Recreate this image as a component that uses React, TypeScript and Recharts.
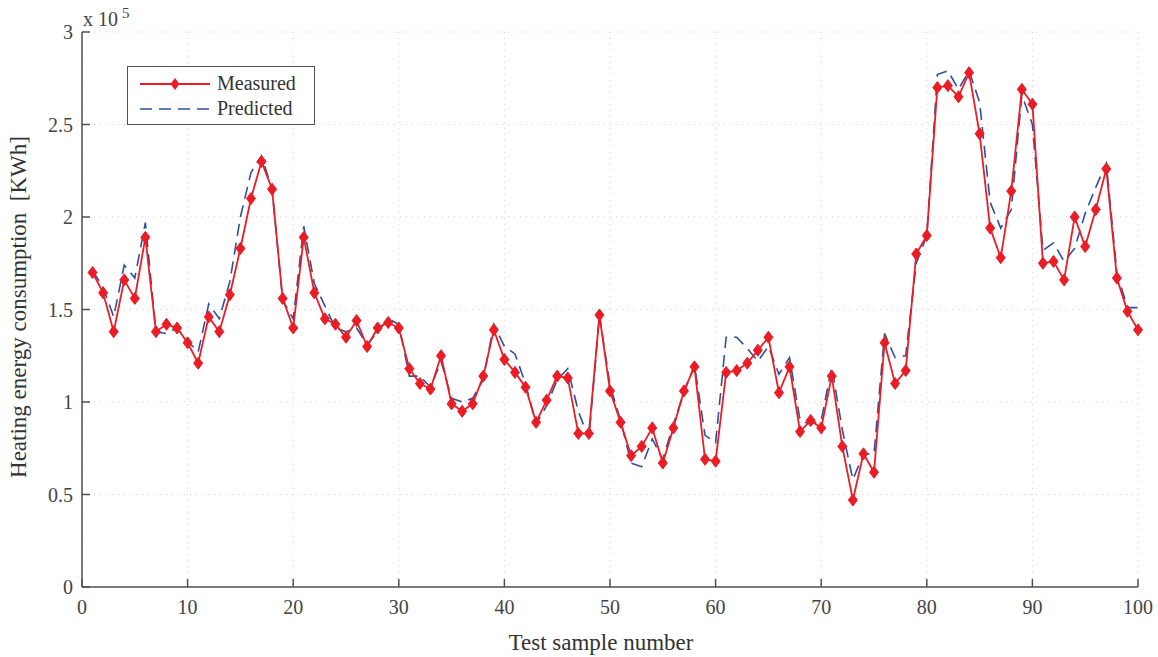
import { LineChart, Line, XAxis, YAxis, CartesianGrid, Legend } from 'recharts'

// values are in units of 10^5 KWh (the axis carries the "x 10^5" note)
const sampleNumbers = [
  1, 2, 3, 4, 5, 6, 7, 8, 9, 10, 11, 12, 13, 14, 15, 16, 17, 18, 19, 20,
  21, 22, 23, 24, 25, 26, 27, 28, 29, 30, 31, 32, 33, 34, 35, 36, 37, 38, 39, 40,
  41, 42, 43, 44, 45, 46, 47, 48, 49, 50, 51, 52, 53, 54, 55, 56, 57, 58, 59, 60,
  61, 62, 63, 64, 65, 66, 67, 68, 69, 70, 71, 72, 73, 74, 75, 76, 77, 78, 79, 80,
  81, 82, 83, 84, 85, 86, 87, 88, 89, 90, 91, 92, 93, 94, 95, 96, 97, 98, 99, 100,
]

const measured = [
  1.70, 1.59, 1.38, 1.66, 1.56, 1.89, 1.38, 1.42, 1.40, 1.32,
  1.21, 1.46, 1.38, 1.58, 1.83, 2.10, 2.30, 2.15, 1.56, 1.40,
  1.89, 1.59, 1.45, 1.42, 1.35, 1.44, 1.30, 1.40, 1.43, 1.40,
  1.18, 1.10, 1.07, 1.25, 0.99, 0.95, 0.99, 1.14, 1.39, 1.23,
  1.16, 1.08, 0.89, 1.01, 1.14, 1.13, 0.83, 0.83, 1.47, 1.06,
  0.89, 0.71, 0.76, 0.86, 0.67, 0.86, 1.06, 1.19, 0.69, 0.68,
  1.16, 1.17, 1.21, 1.28, 1.35, 1.05, 1.19, 0.84, 0.90, 0.86,
  1.14, 0.76, 0.47, 0.72, 0.62, 1.32, 1.10, 1.17, 1.80, 1.90,
  2.70, 2.71, 2.65, 2.78, 2.45, 1.94, 1.78, 2.14, 2.69, 2.61,
  1.75, 1.76, 1.66, 2.00, 1.84, 2.04, 2.26, 1.67, 1.49, 1.39,
]

const predicted = [
  1.71, 1.62, 1.46, 1.74, 1.67, 1.97, 1.38, 1.37, 1.40, 1.33,
  1.27, 1.53, 1.45, 1.65, 2.00, 2.24, 2.33, 2.15, 1.55, 1.45,
  1.95, 1.64, 1.52, 1.40, 1.38, 1.40, 1.31, 1.38, 1.45, 1.42,
  1.14, 1.14, 1.08, 1.22, 1.02, 1.00, 1.02, 1.12, 1.42, 1.30,
  1.26, 1.10, 0.88, 0.98, 1.12, 1.18, 0.95, 0.80, 1.47, 1.09,
  0.90, 0.67, 0.65, 0.80, 0.69, 0.88, 1.05, 1.20, 0.82, 0.78,
  1.35, 1.35, 1.29, 1.22, 1.30, 1.15, 1.24, 0.90, 0.88, 0.90,
  1.19, 0.85, 0.58, 0.72, 0.72, 1.37, 1.24, 1.25, 1.75, 1.90,
  2.77, 2.79, 2.69, 2.79, 2.62, 2.08, 1.94, 2.04, 2.66, 2.50,
  1.82, 1.86, 1.76, 1.83, 2.02, 2.16, 2.29, 1.70, 1.51, 1.51,
]

const xTicks = [0, 10, 20, 30, 40, 50, 60, 70, 80, 90, 100]
const yTicks = [0, 0.5, 1, 1.5, 2, 2.5, 3]

const data = sampleNumbers.map((n, i) => ({ n, measured: measured[i], predicted: predicted[i] }))

const FONT = '"Liberation Serif", "DejaVu Serif", serif'
const RED = '#ec1c24'
const BLUE = '#2f4f9e'
const AXIS = '#505050'
const tickStyle = { fontSize: 20, fill: '#444', fontFamily: FONT }
const axisLine = { stroke: AXIS, strokeWidth: 1.5 }

function Diamond(props: any) {
  const { cx, cy } = props
  if (cx == null || cy == null) return null
  return (
    <polygon
      points={`${cx},${cy - 6} ${cx + 4.5},${cy} ${cx},${cy + 6} ${cx - 4.5},${cy}`}
      fill={RED}
      stroke={RED}
      strokeWidth={1}
    />
  )
}

function MatlabLegend() {
  return (
    <div
      style={{
        border: `1px solid ${AXIS}`,
        background: '#fff',
        width: 188,
        height: 59,
        boxSizing: 'border-box',
        fontFamily: FONT,
        fontSize: 20,
        color: '#333',
        paddingTop: 4,
        textAlign: 'left',
      }}
    >
      <div style={{ display: 'flex', alignItems: 'center', height: 25 }}>
        <svg width={89} height={20}>
          <line x1={12} x2={82} y1={10} y2={10} stroke={RED} strokeWidth={2} />
          <polygon points="47,4 51.5,10 47,16 42.5,10" fill={RED} />
        </svg>
        <span>Measured</span>
      </div>
      <div style={{ display: 'flex', alignItems: 'center', height: 25 }}>
        <svg width={89} height={20}>
          <line x1={12} x2={82} y1={10} y2={10} stroke={BLUE} strokeWidth={1.5} strokeDasharray="12 7" />
        </svg>
        <span>Predicted</span>
      </div>
    </div>
  )
}

export default function App() {
  return (
    <div style={{ position: 'absolute', left: 0, top: 0, width: 1158, height: 657, background: '#fff' }}>
      <LineChart width={1158} height={657} data={data} margin={{ top: 32, right: 20, bottom: 0, left: 0 }}>
        <CartesianGrid stroke="#cfcfcf" strokeDasharray="1 5" />
        <XAxis
          dataKey="n"
          type="number"
          domain={[0, 100]}
          ticks={xTicks}
          height={70}
          tick={tickStyle}
          tickSize={-8}
          tickMargin={21}
          axisLine={axisLine}
          tickLine={axisLine}
          label={{
            content: () => (
              <text x={601} y={650} textAnchor="middle" fontFamily={FONT} fontSize={23} fill="#333">
                Test sample number
              </text>
            ),
          }}
        />
        <XAxis
          xAxisId="top"
          orientation="top"
          dataKey="n"
          type="number"
          domain={[0, 100]}
          ticks={xTicks}
          height={0}
          tickSize={-8}
          tickFormatter={() => ''}
          axisLine={axisLine}
          tickLine={axisLine}
        />
        <YAxis
          type="number"
          domain={[0, 3]}
          ticks={yTicks}
          width={82}
          tick={tickStyle}
          tickSize={-8}
          tickMargin={17}
          axisLine={axisLine}
          tickLine={axisLine}
          label={{
            content: () => (
              <text
                x={26}
                y={307}
                transform="rotate(-90 26 307)"
                textAnchor="middle"
                fontFamily={FONT}
                fontSize={23}
                fill="#333"
                style={{ whiteSpace: 'pre' }}
              >
                {'Heating energy consumption  [KWh]'}
              </text>
            ),
          }}
        />
        <YAxis
          yAxisId="right"
          orientation="right"
          type="number"
          domain={[0, 3]}
          ticks={yTicks}
          width={0}
          tickSize={-8}
          tickFormatter={() => ''}
          axisLine={axisLine}
          tickLine={axisLine}
        />
        <Legend
          verticalAlign="middle"
          align="center"
          layout="vertical"
          content={<MatlabLegend />}
          wrapperStyle={{ position: 'absolute', left: 127, top: 66, width: 188, height: 59 }}
        />
        {/* invisible series that ties the mirrored top/right axes to the chart so MATLAB-style box ticks show */}
        <Line
          xAxisId="top"
          yAxisId="right"
          dataKey="measured"
          stroke="none"
          dot={false}
          activeDot={false}
          legendType="none"
          isAnimationActive={false}
        />
        <Line
          dataKey="predicted"
          stroke={BLUE}
          strokeWidth={1.6}
          strokeDasharray="12 7"
          dot={false}
          activeDot={false}
          isAnimationActive={false}
        />
        <Line
          dataKey="measured"
          stroke={RED}
          strokeWidth={1.8}
          dot={<Diamond />}
          activeDot={false}
          isAnimationActive={false}
        />
      </LineChart>
      <div
        style={{
          position: 'absolute',
          left: 83,
          top: 8,
          fontFamily: FONT,
          fontSize: 20,
          color: '#444',
          whiteSpace: 'pre',
          lineHeight: '22px',
        }}
      >
        x 10<span style={{ position: 'relative', top: -8, fontSize: 15, marginLeft: 4 }}>5</span>
      </div>
    </div>
  )
}
